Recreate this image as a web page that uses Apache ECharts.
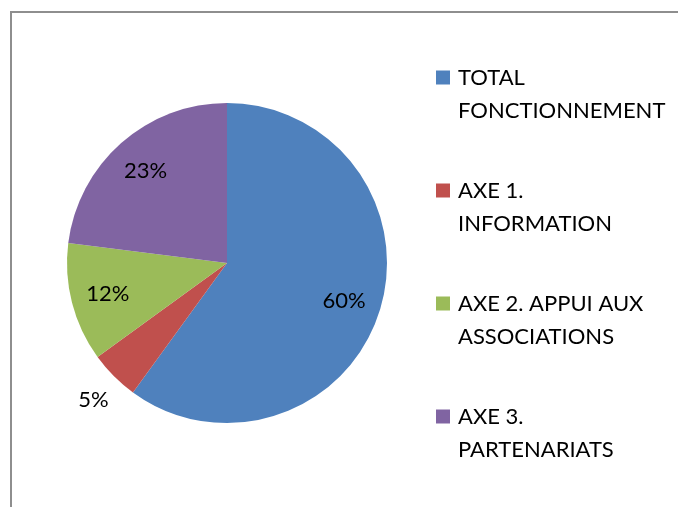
<!DOCTYPE html>
<html>
<head>
<meta charset="utf-8">
<script src="https://cdn.jsdelivr.net/npm/echarts@6/dist/echarts.min.js"></script>
<style>
  html, body { margin: 0; padding: 0; background: #fff; }
  #chart { width: 678px; height: 507px; }
</style>
</head>
<body>
<div id="chart"></div>
<script>
// categories and shares (%)
const names = [
  "TOTAL\nFONCTIONNEMENT",
  "AXE 1.\nINFORMATION",
  "AXE 2. APPUI AUX\nASSOCIATIONS",
  "AXE 3.\nPARTENARIATS",
];
const values = [60, 5, 12, 23];
const colors = ["#4f81bd", "#c0504d", "#9bbb59", "#8064a2"];

const FONT = "Lato, 'Open Sans', sans-serif";

const chart = echarts.init(document.getElementById("chart"));

// pie slices
const pieData = names.map((n, i) => ({
  name: n,
  value: values[i],
  itemStyle: { color: colors[i] },
  // only the small slice gets its label outside
  label: { show: values[i] < 10 },
}));

// transparent copy, only used to place the inner labels further out
const labelData = names.map((n, i) => ({
  name: n,
  value: values[i],
  label: { show: values[i] >= 10 },
}));

const option = {
  animation: false,
  graphic: [
    {
      type: "polyline",
      silent: true,
      shape: { points: [[11, 507], [11, 12], [678, 12]] },
      style: { stroke: "#8e8e8e", lineWidth: 2, fill: null },
    },
  ],
  legend: {
    orient: "vertical",
    left: 436,
    top: 28,
    padding: 0,
    itemWidth: 14,
    itemHeight: 14,
    itemGap: 14,
    icon: "rect",
    data: names,
    // blank first line so the square sits beside the first text line
    formatter: (name) =>
      ["{t| }"].concat(name.split("\n").map((s) => "{t|" + s + "}")).join("\n"),
    textStyle: {
      fontFamily: FONT,
      fontSize: 22,
      color: "#000",
      lineHeight: 33,
      rich: {
        t: {
          fontFamily: FONT,
          fontSize: 22,
          color: "#000",
          lineHeight: 33,
          padding: [0, 0, 0, 3],
        },
      },
    },
  },
  series: [
    {
      name: "main",
      type: "pie",
      center: [227, 263],
      radius: [0, 160],
      startAngle: 90,
      clockwise: true,
      avoidLabelOverlap: false,
      data: pieData,
      label: {
        position: "outside",
        formatter: "{c}%",
        fontFamily: FONT,
        fontSize: 22,
        color: "#000",
        distanceToLabelLine: -18,
      },
      labelLine: { show: false, length: 33, length2: 0 },
      emphasis: { disabled: true },
    },
    {
      name: "labels",
      type: "pie",
      silent: true,
      center: [227, 263],
      radius: [0, 240],
      startAngle: 90,
      clockwise: true,
      data: labelData,
      itemStyle: { color: "rgba(0,0,0,0)" },
      label: {
        position: "inside",
        formatter: "{c}%",
        fontFamily: FONT,
        fontSize: 22,
        color: "#000",
      },
      labelLine: { show: false },
      emphasis: { disabled: true },
    },
  ],
};

chart.setOption(option);
</script>
</body>
</html>
